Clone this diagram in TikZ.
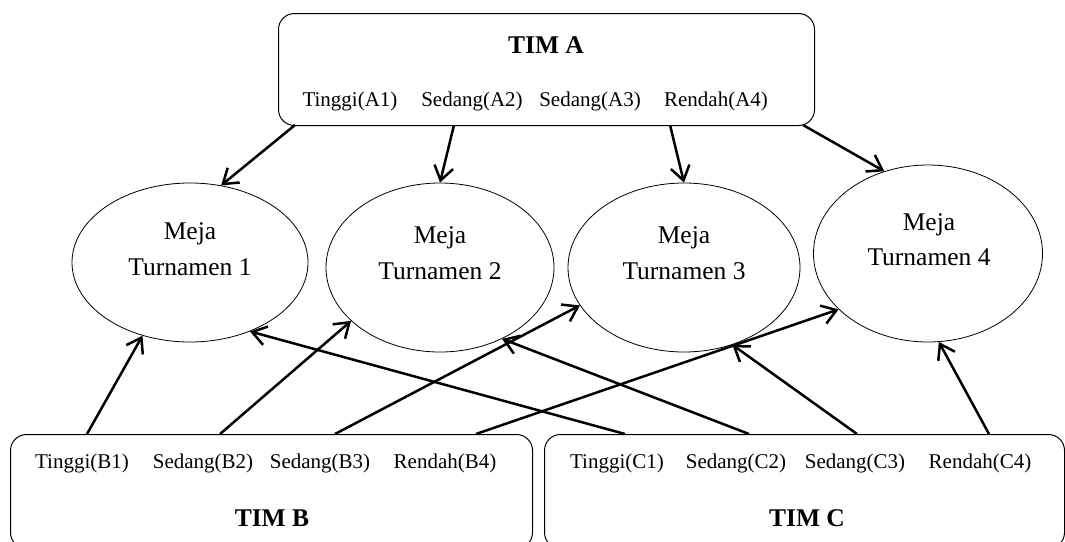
\documentclass[tikz,border=0pt]{standalone}
\usepackage{fontspec}
\setmainfont{Liberation Serif}
\usetikzlibrary{arrows.meta,shapes.geometric}
\tikzset{
  teambox/.style={draw, line width=1pt, rounded corners=16pt, inner sep=0pt, anchor=north west},
  table/.style={draw, ellipse, line width=0.8pt, inner sep=0pt},
  member/.style={anchor=base, inner sep=0pt, font=\fontsize{21}{25}\selectfont},
  team/.style={anchor=base, inner sep=0pt, font=\fontsize{25.5}{30}\selectfont\bfseries},
  tabletext/.style={anchor=base, inner sep=0pt, font=\fontsize{25.5}{30}\selectfont},
  arr/.style={line width=2.5pt, -{Straight Barb[length=14pt,width=19pt]}}
}
\begin{document}
\begin{tikzpicture}[x=1pt,y=-1pt]
\useasboundingbox (0,0) rectangle (1065,541);
\clip (0,0) rectangle (1065,541);
% team boxes
\node[teambox, minimum width=536pt, minimum height=112pt] (boxA) at (278,13) {};
\node[teambox, minimum width=522pt, minimum height=114pt] (boxB) at (10,434) {};
\node[teambox, minimum width=520pt, minimum height=114pt] (boxC) at (544,434) {};
% titles
\node[team] (timA) at (546,53) {TIM A};
\node[team] (timB) at (272,526) {TIM B};
\node[team] (timC) at (807,526) {TIM C};
% members
\node[member] (a1) at (350,106) {Tinggi(A1)};
\node[member] (a2) at (472,106) {Sedang(A2)};
\node[member] (a3) at (590,106) {Sedang(A3)};
\node[member] (a4) at (716,106) {Rendah(A4)};
\node[member] (b1) at (82,468) {Tinggi(B1)};
\node[member] (b2) at (203,468) {Sedang(B2)};
\node[member] (b3) at (320,468) {Sedang(B3)};
\node[member] (b4) at (445,468) {Rendah(B4)};
\node[member] (c1) at (617,468) {Tinggi(C1)};
\node[member] (c2) at (736,468) {Sedang(C2)};
\node[member] (c3) at (855,468) {Sedang(C3)};
\node[member] (c4) at (980,468) {Rendah(C4)};
% tables
\node[table, minimum width=236pt, minimum height=159pt] (m1) at (190,262.5) {};
\node[table, minimum width=228pt, minimum height=169pt] (m2) at (440,267.5) {};
\node[table, minimum width=232pt, minimum height=169pt] (m3) at (684,267.5) {};
\node[table, minimum width=229pt, minimum height=177pt] (m4) at (928,253.5) {};
\node[tabletext] (t1a) at (190,239) {Meja};
\node[tabletext] (t1b) at (190,275) {Turnamen 1};
\node[tabletext] (t2a) at (440,243) {Meja};
\node[tabletext] (t2b) at (440,279) {Turnamen 2};
\node[tabletext] (t3a) at (684,243.5) {Meja};
\node[tabletext] (t3b) at (684,279.5) {Turnamen 3};
\node[tabletext] (t4a) at (929,230) {Meja};
\node[tabletext] (t4b) at (929,265) {Turnamen 4};
% connector ends on the boxes
\coordinate (sa1) at (295,125);
\coordinate (sa2) at (454,125);
\coordinate (sa3) at (670,125);
\coordinate (sa4) at (803,125);
\coordinate (sb1) at (87,434);
\coordinate (sb2) at (220,434);
\coordinate (sb3) at (335,434);
\coordinate (sb4) at (476,434);
\coordinate (sc1) at (625,434);
\coordinate (sc2) at (749,434);
\coordinate (sc3) at (857,434);
\coordinate (sc4) at (989,434);
% arrows
\draw[arr] (sa1) -- (m1.68);
\draw[arr] (sa2) -- (m2.90);
\draw[arr] (sa3) -- (m3.90);
\draw[arr] (sa4) -- (m4.118.5);
\draw[arr] (sb1) -- (m1.237.4);
\draw[arr] (sb2) -- (m2.211.6);
\draw[arr] (sb3) -- (m3.200.3);
\draw[arr] (sb4) -- (m4.212.3);
\draw[arr] (sc1) -- (m1.311.8);
\draw[arr] (sc2) -- (m2.311.1);
\draw[arr] (sc3) -- (m3.302.8);
\draw[arr] (sc4) -- (m4.277.5);
\end{tikzpicture}
\end{document}
